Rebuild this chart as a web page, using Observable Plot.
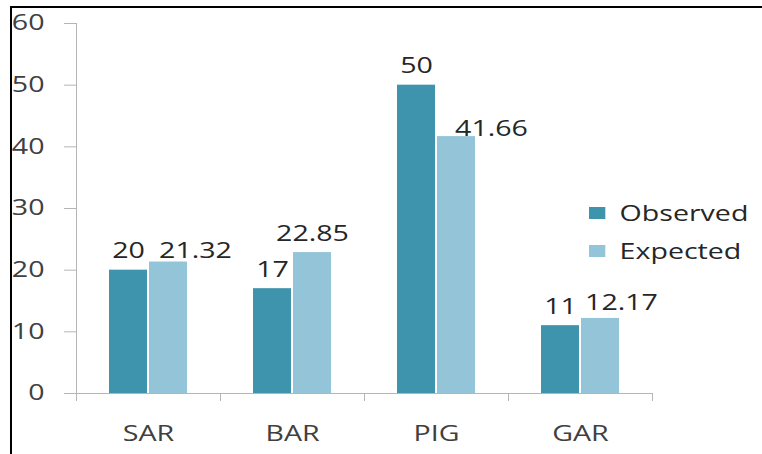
<!DOCTYPE html>
<html>
<head>
<meta charset="utf-8">
<script src="https://cdn.jsdelivr.net/npm/d3@7"></script>
<script src="https://cdn.jsdelivr.net/npm/@observablehq/plot@0.6"></script>
<style>
  html, body { margin: 0; padding: 0; background: #fff; }
  #page { position: relative; width: 762px; height: 454px; overflow: hidden; background: #fff; }
  #clip { position: absolute; left: 12px; top: 8px; right: 0; bottom: 0; overflow: hidden; }
  #chart { position: absolute; left: -12px; top: -8px; width: 762px; height: 454px; }
  #edge { position: absolute; left: 10px; top: 6px; right: 0; bottom: 0;
          border-left: 2px solid #000; border-top: 2px solid #000; pointer-events: none; }
  #key { position: absolute; left: 589px; top: 199px; transform: scaleX(1.36); transform-origin: 0 0; }
  .lg-swatches { font: 21px "Open Sans", sans-serif; color: #262626; }
  .lg-swatch { padding-bottom: 10px !important; }
</style>
</head>
<body>
<div id="page">
  <div id="clip"><div id="chart"></div></div>
  <div id="key"></div>
  <div id="edge"></div>
</div>
<script>
const categories = ["SAR", "BAR", "PIG", "GAR"];
const series = ["Observed", "Expected"];
const observed = [20, 17, 50, 11];
const expected = [21.32, 22.85, 41.66, 12.17];
const yTicks = [0, 10, 20, 30, 40, 50, 60];
const seriesColors = ["#3f94ad", "#93c4d7"];
// pixel nudges [dx, dy] for the Expected value labels so they clear their neighbours
const expectedLabelShift = [[27, 8], [0, 0], [35, 11], [21, 4]];

const rows = categories.flatMap((category, i) => [
  {category, series: "Observed", value: observed[i], i},
  {category, series: "Expected", value: expected[i], i}
]);

const W = 762, H = 454;
const mt = 23, mb = 54, ml = 75, mr = 109;
const frameH = H - mt - mb;
const tickLen = 7;
const axisGray = "#b5b5b5";
const textDark = "#404040";
const STRETCH = 1.36;

const labelOpts = {
  fx: "category", x: "series", y: "value",
  text: d => String(d.value),
  lineAnchor: "bottom", fill: "#262626"
};

const plot = Plot.plot({
  width: W, height: H,
  marginTop: mt, marginBottom: mb, marginLeft: ml, marginRight: mr,
  style: {fontFamily: '"Open Sans", sans-serif', fontSize: "21px", color: textDark,
          background: "transparent", maxWidth: "none"},
  fx: {domain: categories, padding: 0},
  x: {domain: series, paddingInner: 0.04, paddingOuter: 0.78, axis: null},
  y: {domain: [0, 60], insetBottom: tickLen},
  color: {domain: series, range: seriesColors},
  marks: [
    Plot.barY(rows, {fx: "category", x: "series", y: "value", fill: "series"}),
    Plot.ruleY([0], {stroke: axisGray}),
    // value axis line, then the short category separators below the baseline
    Plot.frame({anchor: "left", facetAnchor: "left", stroke: axisGray}),
    Plot.frame({anchor: "left", stroke: axisGray, insetTop: frameH - tickLen}),
    Plot.frame({anchor: "right", stroke: axisGray, insetTop: frameH - tickLen}),
    Plot.axisY({ticks: yTicks, tickSize: 12, tickPadding: 20, stroke: axisGray, fill: textDark, label: null}),
    Plot.axisFx({anchor: "bottom", tickSize: 0, tickPadding: 26, fill: textDark, label: null}),
    Plot.text(rows.filter(d => d.series === "Observed"), {...labelOpts, dy: -12}),
    ...rows.filter(d => d.series === "Expected").map(d =>
      Plot.text([d], {...labelOpts,
        dx: expectedLabelShift[d.i][0],
        dy: -12 + expectedLabelShift[d.i][1]}))
  ]
});

document.getElementById("chart").appendChild(plot);

// widen the lettering horizontally
plot.querySelectorAll("text").forEach(t => {
  const n = t.getComputedTextLength();
  if (n > 0) {
    t.setAttribute("textLength", (n * STRETCH).toFixed(1));
    t.setAttribute("lengthAdjust", "spacingAndGlyphs");
  }
});

const key = plot.legend("color", {legend: "swatches", columns: 1, swatchSize: 12, className: "lg"});
document.getElementById("key").appendChild(key);
</script>
</body>
</html>
